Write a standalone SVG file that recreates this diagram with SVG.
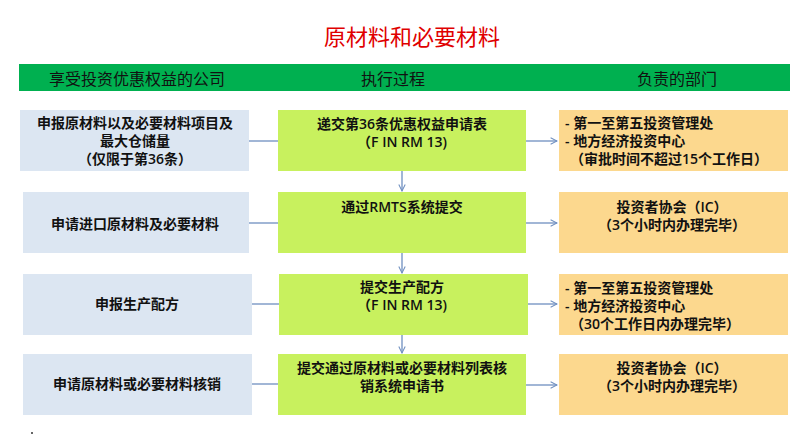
<svg xmlns="http://www.w3.org/2000/svg" width="809" height="441" viewBox="0 0 809 441">
<defs>
<marker id="ah" viewBox="0 0 10 10" refX="9" refY="5" markerWidth="8" markerHeight="8" orient="auto" markerUnits="userSpaceOnUse">
<path d="M1,1 L9,5 L1,9" fill="none" stroke="#6F8FC0" stroke-width="1.3"/>
</marker>
<style>
text{font-family:"Open Sans","Noto Sans CJK SC",sans-serif;fill:#111;}
.t{font-size:14px;font-weight:600;text-anchor:middle;dominant-baseline:central;}
.l{font-size:14px;font-weight:600;dominant-baseline:central;}
.h{font-size:16px;text-anchor:middle;dominant-baseline:central;font-family:"Noto Sans CJK SC",sans-serif;}
.blue{fill:#DCE6F2;}
.green{fill:#C8F15E;}
.orange{fill:#FCD88E;}
.c{stroke:#6F8FC0;stroke-width:1.3;fill:none;}
</style>
</defs>
<rect width="809" height="441" fill="#fff"/>
<text x="412" y="35" style="font-family:'Noto Sans CJK SC',sans-serif;font-size:22px;fill:#E00000;text-anchor:middle;dominant-baseline:central;">原材料和必要材料</text>
<g id="header">
<rect x="19" y="64" width="771" height="27" fill="#00B050"/>
<text class="h" x="137" y="78">享受投资优惠权益的公司</text>
<text class="h" x="393" y="78">执行过程</text>
<text class="h" x="677" y="78">负责的部门</text>
</g>
<g id="left1"><rect class="blue" x="20" y="110" width="229" height="61"/>
<text class="t" x="135" y="122">申报原材料以及必要材料项目及</text>
<text class="t" x="135" y="140">最大仓储量</text>
<text class="t" x="135" y="158">（仅限于第36条）</text></g>
<g id="left2"><rect class="blue" x="23" y="192" width="226" height="61"/>
<text class="t" x="135" y="223">申请进口原材料及必要材料</text></g>
<g id="left3"><rect class="blue" x="23" y="274" width="229" height="61"/>
<text class="t" x="137" y="303">申报生产配方</text></g>
<g id="left4"><rect class="blue" x="23" y="354" width="229" height="61"/>
<text class="t" x="137" y="383">申请原材料或必要材料核销</text></g>
<g id="mid1"><rect class="green" x="278" y="110" width="248" height="61"/>
<text class="t" x="402" y="123">递交第36条优惠权益申请表</text>
<text class="t" x="402" y="141">（F IN RM 13)</text></g>
<g id="mid2"><rect class="green" x="278" y="192" width="248" height="61"/>
<text class="t" x="402" y="206">通过RMTS系统提交</text></g>
<g id="mid3"><rect class="green" x="279" y="274" width="249" height="61"/>
<text class="t" x="402" y="286">提交生产配方</text>
<text class="t" x="402" y="304">（F IN RM 13)</text></g>
<g id="mid4"><rect class="green" x="278" y="354" width="248" height="61"/>
<text class="t" x="402" y="367">提交通过原材料或必要材料列表核</text>
<text class="t" x="402" y="385">销系统申请书</text></g>
<g id="right1"><rect class="orange" x="559" y="110" width="229" height="61"/>
<text class="l" x="565" y="122">- 第一至第五投资管理处</text>
<text class="l" x="565" y="140">- 地方经济投资中心</text>
<text class="l" x="570" y="158">（审批时间不超过15个工作日）</text></g>
<g id="right2"><rect class="orange" x="559" y="192" width="229" height="61"/>
<text class="t" x="672" y="206">投资者协会（IC）</text>
<text class="t" x="672" y="224">（3个小时内办理完毕）</text></g>
<g id="right3"><rect class="orange" x="559" y="274" width="229" height="61"/>
<text class="l" x="565" y="287">- 第一至第五投资管理处</text>
<text class="l" x="565" y="305">- 地方经济投资中心</text>
<text class="l" x="570" y="323">（30个工作日内办理完毕）</text></g>
<g id="right4"><rect class="orange" x="559" y="354" width="229" height="61"/>
<text class="t" x="672" y="367">投资者协会（IC）</text>
<text class="t" x="672" y="385">（3个小时内办理完毕）</text></g>
<g id="connectors">
<line class="c" x1="249" y1="141" x2="278" y2="141"/>
<line class="c" x1="249" y1="223" x2="278" y2="223"/>
<line class="c" x1="252" y1="304" x2="279" y2="304"/>
<line class="c" x1="252" y1="384" x2="278" y2="384"/>
<line class="c" x1="526" y1="141" x2="557" y2="141" marker-end="url(#ah)"/>
<line class="c" x1="526" y1="223" x2="557" y2="223" marker-end="url(#ah)"/>
<line class="c" x1="528" y1="304" x2="557" y2="304" marker-end="url(#ah)"/>
<line class="c" x1="526" y1="385" x2="557" y2="385" marker-end="url(#ah)"/>
<line class="c" x1="402" y1="171" x2="402" y2="191" marker-end="url(#ah)"/>
<line class="c" x1="402" y1="253" x2="402" y2="273" marker-end="url(#ah)"/>
<line class="c" x1="402" y1="335" x2="402" y2="353" marker-end="url(#ah)"/>
</g>
<circle cx="32" cy="433" r="1" fill="#333"/>
</svg>
